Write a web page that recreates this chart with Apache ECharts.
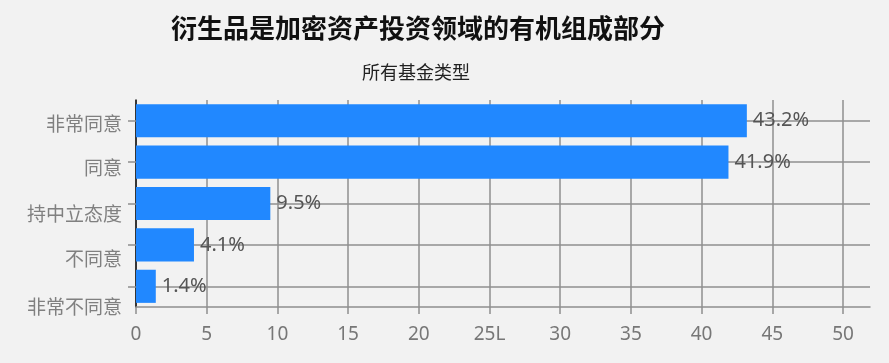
<!DOCTYPE html>
<html><head><meta charset="utf-8">
<script src="https://cdn.jsdelivr.net/npm/echarts@6/dist/echarts.min.js"></script>
<style>html,body{margin:0;padding:0;background:#f2f2f2}#c{width:889px;height:363px}</style>
</head><body><div id="c"></div>
<script>
const categories = ['非常同意', '同意', '持中立态度', '不同意', '非常不同意'];
const values = [43.2, 41.9, 9.5, 4.1, 1.4];
const xTickLabels = ['0', '5', '10', '15', '20', '25L', '30', '35', '40', '45', '50'];
const labelShift = [6, 12, 20, 28, 40];

const chart = echarts.init(document.getElementById('c'));
const grey = '#8f8f8f';
const rich = {};
labelShift.forEach((s, i) => { rich['s' + i] = { padding: [s, 0, 0, 0], color: '#808080', fontSize: 19, fontFamily: 'Noto Sans CJK SC' }; });
chart.setOption({
  backgroundColor: '#f2f2f2',
  animation: false,
  title: [
    { text: '衍生品是加密资产投资领域的有机组成部分', left: 166, top: 10,
      textStyle: { fontFamily: 'Noto Sans CJK SC', fontSize: 26, fontWeight: 'bold', color: '#111' } },
    { text: '所有基金类型', left: 357, top: 58,
      textStyle: { fontFamily: 'Noto Sans CJK SC', fontSize: 18, fontWeight: 'normal', color: '#222' } }
  ],
  grid: [
    { left: 136, right: 19, top: 100, bottom: 56 },
    { left: 136, right: 46, top: 100, bottom: 56 }
  ],
  xAxis: [
    { type: 'value', gridIndex: 0, min: 0, max: 52, z: 0,
      axisLine: { show: true, lineStyle: { color: grey, width: 1.5 } },
      axisTick: { show: false }, axisLabel: { show: false }, splitLine: { show: false } },
    { type: 'value', gridIndex: 1, min: 0, max: 50, interval: 5, z: 0,
      axisLine: { show: false },
      axisTick: { show: true, length: 7, lineStyle: { color: grey, width: 1.5 } },
      axisLabel: { margin: 18, color: '#777', fontSize: 19, fontFamily: 'Noto Sans',
        formatter: v => { const i = Math.round(v / 5); return (Math.abs(v - i * 5) < 1e-6 && xTickLabels[i] !== undefined) ? xTickLabels[i] : ''; } },
      splitLine: { show: true, lineStyle: { color: grey, width: 1.5 } } }
  ],
  yAxis: [
    { type: 'category', gridIndex: 0, inverse: true, z: 0,
      data: categories,
      axisLine: { show: true, lineStyle: { color: '#111', width: 1.5 } },
      axisTick: { show: true, alignWithLabel: true, length: 8, lineStyle: { color: grey, width: 1.5 } },
      axisLabel: { margin: 14, color: '#808080', fontSize: 19, fontFamily: 'Noto Sans CJK SC',
        formatter: (v, i) => '{s' + i + '|' + v + '}', rich: rich },
      splitLine: { show: true, alignWithLabel: true, lineStyle: { color: grey, width: 1.5 } } },
    { type: 'category', gridIndex: 1, inverse: true, data: categories, show: false }
  ],
  series: [{
    type: 'bar', xAxisIndex: 1, yAxisIndex: 1, data: values, z: 3,
    barCategoryGap: '20%',
    itemStyle: { color: '#2188ff' },
    label: { show: true, position: 'right', distance: 6, formatter: p => p.value.toFixed(1) + '%',
      color: '#555', fontSize: 20, fontFamily: 'Noto Sans' }
  }]
});
</script></body></html>
